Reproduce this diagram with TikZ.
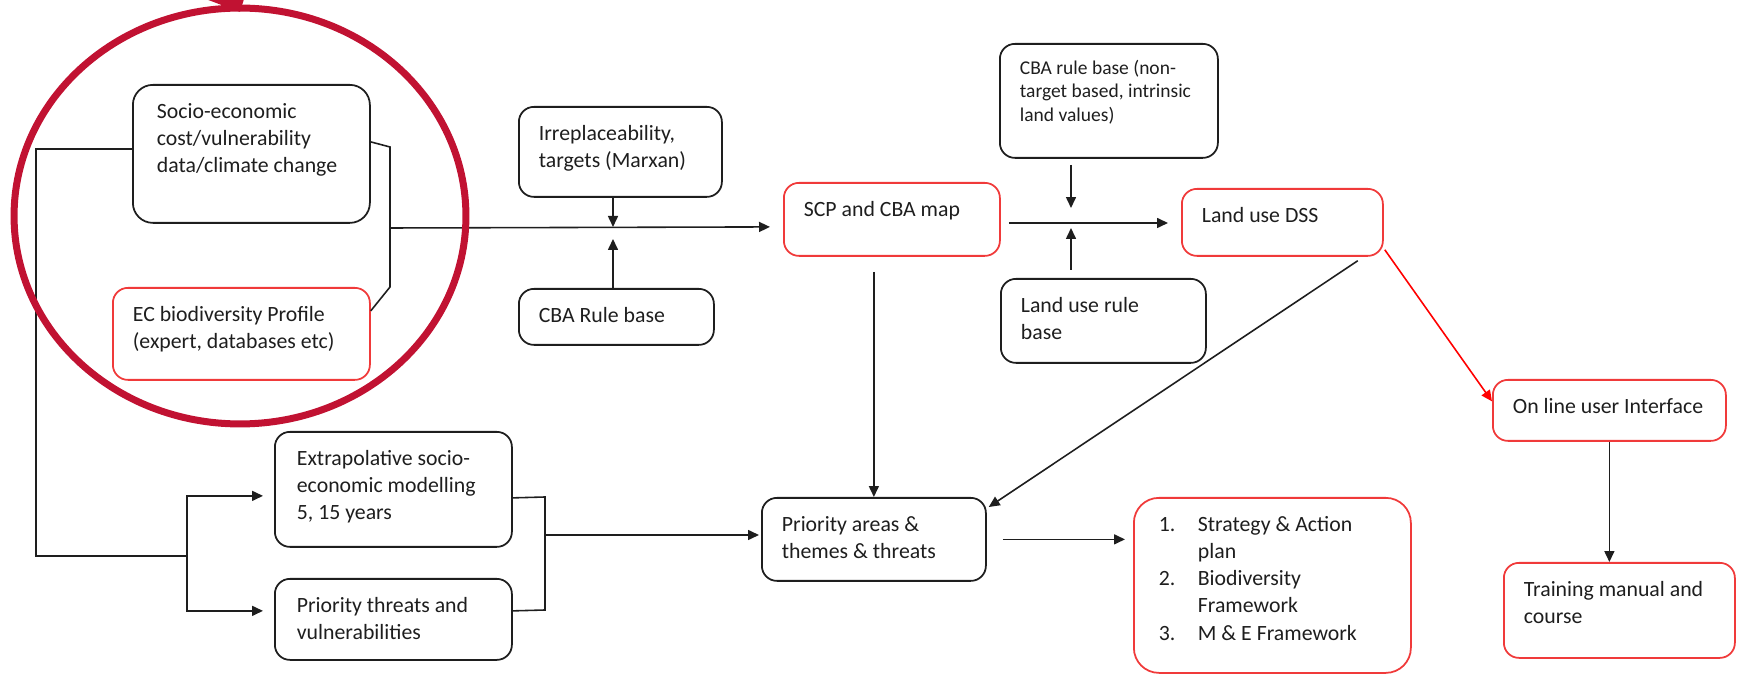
\documentclass[tikz,border=0pt]{standalone}
\usepackage{fontspec}
\setmainfont{Carlito}
\usetikzlibrary{arrows.meta,calc}
\newlength\px
\setlength\px{0.02cm}
\definecolor{boxred}{HTML}{F03A3A}
\definecolor{ringred}{HTML}{C11232}
\definecolor{linegray}{HTML}{1E1E1E}
\newcommand{\boxlines}[4][20]{\parbox[t][#3\px][t]{#2\px}{\raggedright\leftskip=#1\px\vskip 15\px\strut#4}}

\begin{document}
\begin{tikzpicture}[x=0.02cm,y=-0.02cm,
  blk/.style={draw=linegray, line width=1pt, rounded corners=0.3cm, anchor=north west, inner sep=0pt, font=\fontsize{12.4pt}{15.4pt}\selectfont, text=linegray},
  rblk/.style={blk, draw=boxred},
  conn/.style={draw=linegray, line width=0.9pt},
  arr/.style={conn, -{Triangle[length=0.22cm,width=0.2cm]}},
  ring/.style={draw=ringred, line width=0.14cm}]
\useasboundingbox (0,0) rectangle (1739,675);

\node[blk, rounded corners=0.4cm] (socio) at (132,84) {\boxlines[24]{237}{138}{Socio-economic\\cost/vulnerability\\data/climate change}};
\node[rblk] (ec) at (112,287) {\boxlines{257}{92}{EC biodiversity Profile\\(expert, databases etc)}};
\node[blk] (irrep) at (518,106) {\boxlines{203}{90}{Irreplaceability,\\targets (Marxan)}};
\node[blk] (cbarule) at (518,288) {\boxlines{195}{56}{CBA Rule base}};
\node[rblk] (scp) at (783,182) {\boxlines{216}{73}{SCP and CBA map}};
\node[blk, font=\fontsize{11.1pt}{13.1pt}\selectfont] (cbanon) at (999,43) {\boxlines{218}{114}{CBA rule base (non-\\target based, intrinsic\\land values)}};
\node[blk] (landrule) at (1000,278) {\boxlines{205}{84}{Land use rule\\base}};
\node[rblk] (dss) at (1181,188) {\boxlines{201}{67}{Land use DSS}};
\node[rblk] (online) at (1492,379) {\boxlines{233}{61}{On line user Interface}};
\node[rblk] (training) at (1503,562) {\boxlines{231}{95}{Training manual and\\course}};
\node[blk] (extrap) at (274,431) {\boxlines[22]{237}{115}{Extrapolative socio-\\economic modelling\\5, 15 years}};
\node[blk] (threats) at (274,578) {\boxlines[22]{237}{81}{Priority threats and\\vulnerabilities}};
\node[blk] (prio) at (761,497) {\boxlines{224}{83}{Priority areas \&\\themes \& threats}};
\node[rblk, rounded corners=0.5cm] (strategy) at (1133,497) {\boxlines[25]{277}{175}{\makebox[39\px][l]{1.}Strategy \& Action\\\hspace*{39\px}plan\\\makebox[39\px][l]{2.}Biodiversity\\\hspace*{39\px}Framework\\\makebox[39\px][l]{3.}M \& E Framework}};

\coordinate (fork) at (187,556);
\coordinate (join) at (390,228);
\coordinate (join2) at (545,535);
\coordinate (mid1) at (613,227);
\coordinate (mid2) at (1071,223);

\draw[conn] ($(socio.west)+(0,-5)$) -| (36,556) -- (fork);
\draw[arr, shorten >=0.22cm] (fork) |- ($(extrap.west)+(0,6.5)$);
\draw[arr, shorten >=0.22cm] (fork) |- ($(threats.west)+(0,-8.5)$);

\draw[conn] ($(socio.east)+(0,-12)$) -- (390,147) -- (390,287) -- ($(ec.east)+(0,-23)$);
\draw[arr, shorten >=0.26cm] (join) -- ($(scp.west)+(0,7.5)$);
\draw[arr] (irrep.south -| mid1) -- (mid1);
\draw[arr, shorten >=0.24cm] (cbarule.north -| mid1) -- (mid1);

\draw[arr, shorten <=0.16cm, shorten >=0.26cm] (scp.east |- mid2) -- (dss.west |- mid2);
\draw[arr, shorten <=0.12cm, shorten >=0.3cm] (cbanon.south -| mid2) -- (mid2);
\draw[arr, shorten <=0.16cm, shorten >=0.1cm] (landrule.north -| mid2) -- (mid2);

\draw[arr, shorten <=0.3cm] (scp.south -| prio.north) -- (prio.north);
\draw[arr] ($(dss.south east)+(-26,4)$) -- ($(prio.north east)+(2,10)$);
\draw[arr, draw=red] ($(dss.south east)+(1,-7)$) -- ($(online.west)+(0,-9)$);
\draw[arr] (online.south) -- (online.south |- training.north);

\draw[conn] ($(extrap.east)+(0,8.5)$) -- (545,497) -- (545,610) -- ($(threats.east)+(0,-8.5)$);
\draw[arr, shorten >=0.04cm] (join2) -- (prio.west |- join2);
\draw[arr, shorten <=0.32cm, shorten >=0.16cm] (prio.east) -- (prio.east -| strategy.west);

\draw[ring] (240,216) ellipse [x radius=4.52cm, y radius=4.16cm];
\draw[ring, -{Triangle[length=0.6cm,width=1.1cm]}] (205,-60) -- (240,12);
\end{tikzpicture}
\end{document}
